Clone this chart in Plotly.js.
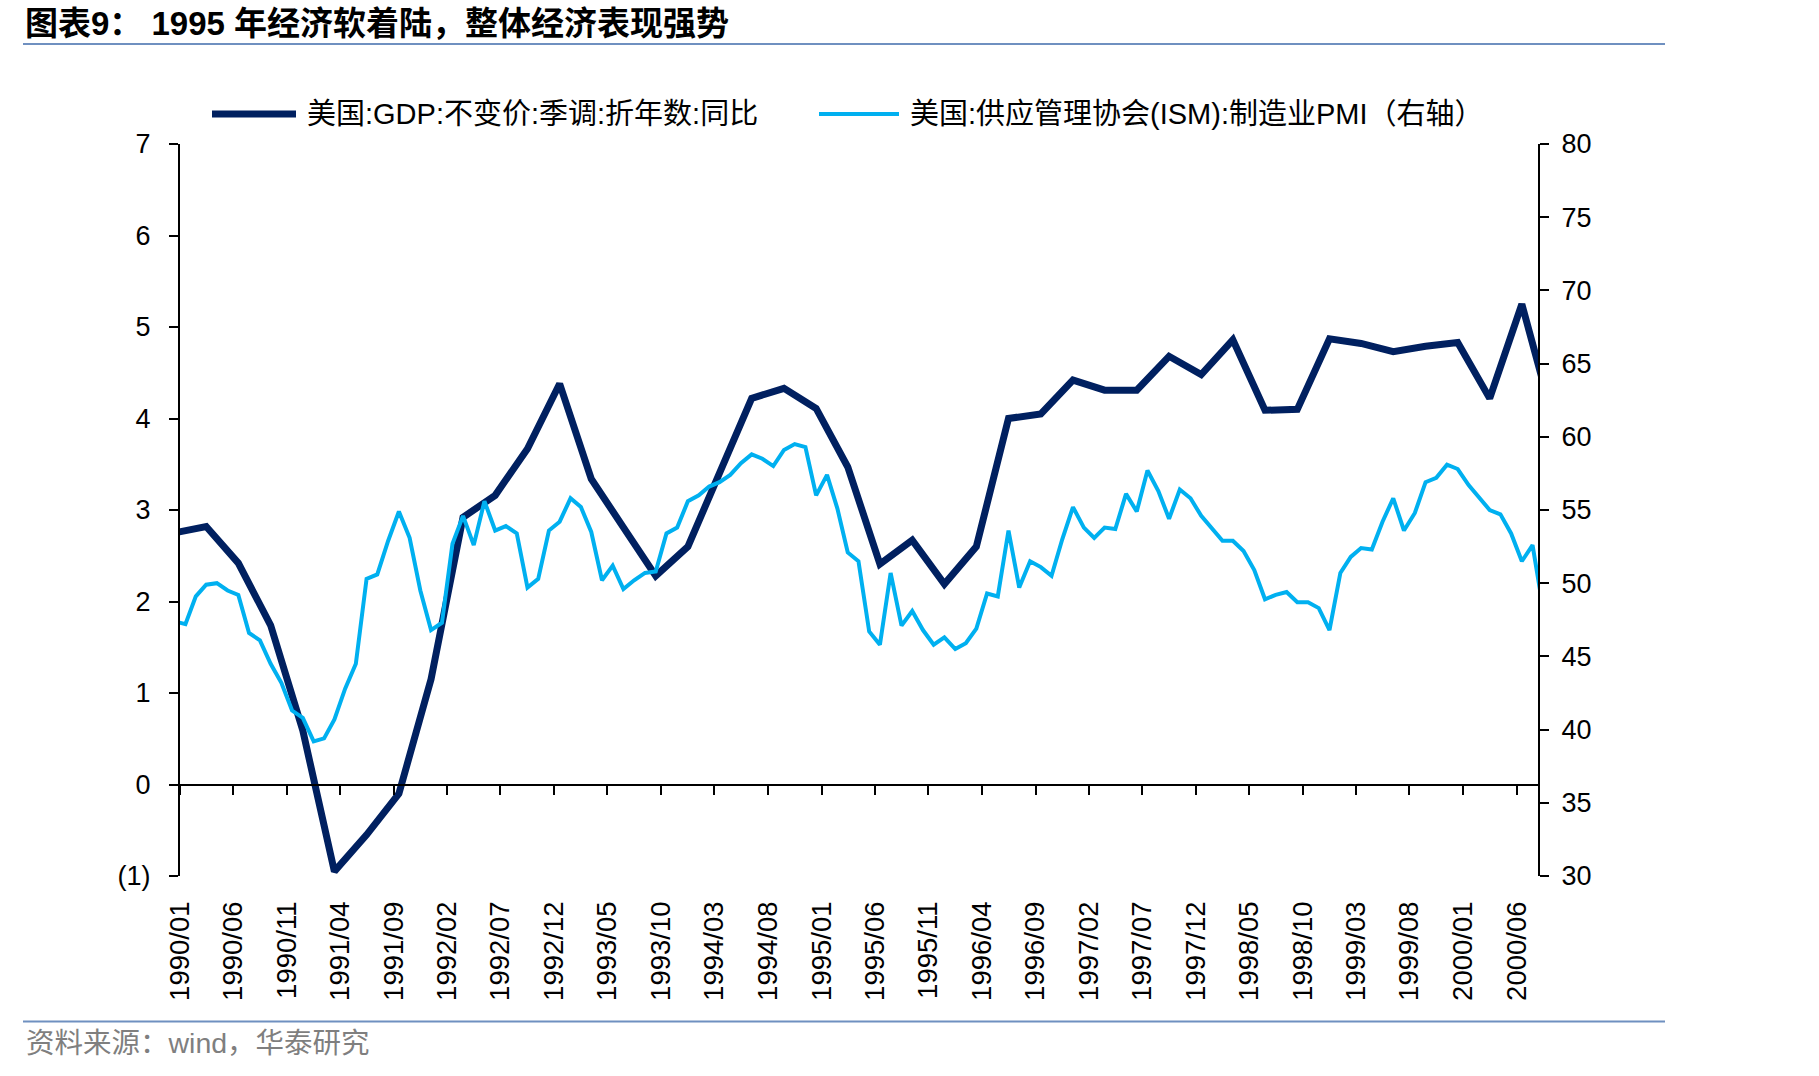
<!DOCTYPE html>
<html>
<head>
<meta charset="utf-8">
<script src="https://cdn.plot.ly/plotly-3.0.1.min.js"></script>
<style>
html, body { margin: 0; padding: 0; background: #ffffff; }
#chart { width: 1819px; height: 1076px; }
</style>
</head>
<body>
<div id="chart"></div>
<script>
// ---------------- DATA ----------------
// Series names (legend)
const gdpName = '美国:GDP:不变价:季调:折年数:同比';
const pmiName = '美国:供应管理协会(ISM):制造业PMI（右轴）';

// ISM manufacturing PMI, monthly, first month = 1989/12, last = 2000/08
const pmiFirstMonth = '1989/12';
const pmiValues = [47.4,
  47.2, 49.1, 49.9, 50.0, 49.5, 49.2, 46.6, 46.1, 44.5, 43.2, 41.3, 40.8,
  39.2, 39.4, 40.7, 42.8, 44.5, 50.3, 50.6, 52.9, 54.9, 53.1, 49.5, 46.8,
  47.3, 52.7, 54.6, 52.6, 55.6, 53.6, 53.9, 53.4, 49.7, 50.3, 53.6, 54.2,
  55.8, 55.2, 53.5, 50.2, 51.2, 49.6, 50.2, 50.7, 50.8, 53.4, 53.8, 55.6,
  56.0, 56.6, 56.9, 57.4, 58.2, 58.8, 58.5, 58.0, 59.1, 59.5, 59.3, 56.0,
  57.4, 55.1, 52.1, 51.5, 46.7, 45.8, 50.7, 47.1, 48.1, 46.8, 45.8, 46.3,
  45.5, 45.9, 46.9, 49.3, 49.1, 53.6, 49.7, 51.5, 51.1, 50.5, 53.0, 55.2,
  53.8, 53.1, 53.8, 53.7, 56.1, 54.9, 57.7, 56.3, 54.4, 56.4, 55.8, 54.6,
  53.7, 52.9, 52.9, 52.2, 50.9, 48.9, 49.2, 49.4, 48.7, 48.7, 48.3, 46.8,
  50.7, 51.8, 52.4, 52.3, 54.2, 55.8, 53.6, 54.8, 56.9, 57.2, 58.1, 57.8,
  56.7, 55.8, 55.0, 54.7, 53.4, 51.5, 52.6, 48.1];

// US real GDP y/y (%), quarterly (quarter-end month)
const gdpQuarters = ['1989/12',
  '1990/03', '1990/06', '1990/09', '1990/12',
  '1991/03', '1991/06', '1991/09', '1991/12',
  '1992/03', '1992/06', '1992/09', '1992/12',
  '1993/03', '1993/06', '1993/09', '1993/12',
  '1994/03', '1994/06', '1994/09', '1994/12',
  '1995/03', '1995/06', '1995/09', '1995/12',
  '1996/03', '1996/06', '1996/09', '1996/12',
  '1997/03', '1997/06', '1997/09', '1997/12',
  '1998/03', '1998/06', '1998/09', '1998/12',
  '1999/03', '1999/06', '1999/09', '1999/12',
  '2000/03', '2000/06', '2000/09'];
const gdpValues = [2.75,
  2.82, 2.42, 1.74, 0.59,
  -0.95, -0.55, -0.10, 1.15,
  2.92, 3.16, 3.67, 4.38,
  3.34, 2.81, 2.28, 2.60,
  3.42, 4.22, 4.33, 4.11,
  3.47, 2.41, 2.67, 2.19,
  2.60, 4.00, 4.05, 4.42,
  4.31, 4.31, 4.68, 4.48,
  4.86, 4.09, 4.10, 4.87,
  4.82, 4.73, 4.79, 4.83,
  4.22, 5.25, 3.95];

// Axis ticks
const xAxisStart = '1990/01';
const xAxisEnd = '2000/08';
const xTickStepMonths = 5;
const leftTickVals = [-1, 0, 1, 2, 3, 4, 5, 6, 7];
const leftTickText = ['(1)', '0', '1', '2', '3', '4', '5', '6', '7'];
const rightRange = [30, 80];
const rightTickStep = 5;

// Texts
const titleText = '图表9： 1995 年经济软着陆，整体经济表现强势';
const sourceText = '资料来源：wind，华泰研究';

// ---------------- HELPERS ----------------
function toDate(label) {            // '1990/03' -> '1990-03-01'
  const [y, m] = label.split('/');
  return y + '-' + m + '-01';
}
function monthSequence(first, count) {
  let [y, m] = first.split('/').map(Number);
  const out = [];
  for (let i = 0; i < count; i++) {
    out.push(y + '-' + String(m).padStart(2, '0') + '-01');
    m++; if (m > 12) { m = 1; y++; }
  }
  return out;
}
const pmiDates = monthSequence(pmiFirstMonth, pmiValues.length);
const gdpDates = gdpQuarters.map(toDate);

// ---------------- LAYOUT GEOMETRY ----------------
const W = 1819, H = 1076;
const L = 180, R = 1538, T = 144, B = 876;
const px2x = p => (p - L) / (R - L);
const px2y = p => (B - p) / (B - T);

const FONT_LATIN = 'Liberation Sans, Arial, Noto Sans CJK SC, sans-serif';
const FONT_MIX = 'Liberation Sans, Noto Sans CJK SC, sans-serif';

const navy = '#002060';
const cyan = '#00b0f0';
const ruleColor = '#6f90c0';

const traces = [
  {
    type: 'scatter', mode: 'lines', name: gdpName,
    x: gdpDates, y: gdpValues, xaxis: 'x', yaxis: 'y',
    xperiod: 'M1', xperiodalignment: 'middle',
    line: { color: navy, width: 7 }, showlegend: false, hoverinfo: 'skip'
  },
  {
    type: 'scatter', mode: 'lines', name: pmiName,
    x: pmiDates, y: pmiValues, xaxis: 'x', yaxis: 'y2',
    xperiod: 'M1', xperiodalignment: 'middle',
    line: { color: cyan, width: 4 }, showlegend: false, hoverinfo: 'skip'
  },
  { // carrier for the zero-line axis with ticks
    type: 'scatter', mode: 'lines', x: [], y: [], xaxis: 'x2', yaxis: 'y',
    showlegend: false, hoverinfo: 'skip'
  }
];

const xRange = [toDate(xAxisStart), toDate(xAxisEnd)];
const commonX = {
  type: 'date', range: xRange, tick0: toDate(xAxisStart), dtick: 'M' + xTickStepMonths,
  showgrid: false, zeroline: false, fixedrange: true
};

const layout = {
  width: W, height: H,
  paper_bgcolor: '#ffffff', plot_bgcolor: 'rgba(0,0,0,0)',
  margin: { l: L, r: W - R, t: T, b: H - B, pad: 0 },
  showlegend: false,
  title: {
    text: titleText,
    x: 25 / W, xref: 'container', xanchor: 'left',
    y: 1 - 23 / H, yref: 'container', yanchor: 'middle',
    font: { family: FONT_MIX, size: 33, color: '#000000', weight: 'bold' }
  },
  xaxis: Object.assign({}, commonX, {
    anchor: 'y', side: 'bottom',
    showline: false, ticks: '',
    tickformat: '%Y/%m', tickangle: -90,
    tickfont: { family: FONT_LATIN, size: 27.5, color: '#000000' },
    ticklabelstandoff: 19
  }),
  xaxis2: Object.assign({}, commonX, {
    overlaying: 'x', anchor: 'free', position: 0.125, side: 'bottom',
    showline: true, linecolor: '#000000', linewidth: 2,
    ticks: 'outside', ticklen: 9, tickwidth: 2, tickcolor: '#000000',
    showticklabels: false
  }),
  yaxis: {
    range: [leftTickVals[0], leftTickVals[leftTickVals.length - 1]],
    tickmode: 'array', tickvals: leftTickVals, ticktext: leftTickText,
    showline: true, linecolor: '#000000', linewidth: 2,
    ticks: 'outside', ticklen: 9, tickwidth: 2, tickcolor: '#000000',
    showgrid: false, zeroline: false, fixedrange: true,
    tickfont: { family: FONT_LATIN, size: 27, color: '#000000' },
    ticklabelstandoff: 13
  },
  yaxis2: {
    overlaying: 'y', side: 'right', anchor: 'x',
    range: rightRange, tick0: rightRange[0], dtick: rightTickStep,
    showline: true, linecolor: '#000000', linewidth: 2,
    ticks: 'outside', ticklen: 9, tickwidth: 2, tickcolor: '#000000',
    showgrid: false, zeroline: false, fixedrange: true,
    tickfont: { family: FONT_LATIN, size: 27, color: '#000000' },
    ticklabelstandoff: 7
  },
  shapes: [
    { type: 'line', xref: 'paper', yref: 'paper', x0: px2x(23), x1: px2x(1665), y0: px2y(44), y1: px2y(44),
      line: { color: ruleColor, width: 2 } },
    { type: 'line', xref: 'paper', yref: 'paper', x0: px2x(23), x1: px2x(1665), y0: px2y(1021.5), y1: px2y(1021.5),
      line: { color: ruleColor, width: 2 } },
    { type: 'line', xref: 'paper', yref: 'paper', x0: px2x(212), x1: px2x(296), y0: px2y(114), y1: px2y(114),
      line: { color: navy, width: 7 } },
    { type: 'line', xref: 'paper', yref: 'paper', x0: px2x(819), x1: px2x(899), y0: px2y(114), y1: px2y(114),
      line: { color: cyan, width: 4 } }
  ],
  annotations: [
    { xref: 'paper', yref: 'paper', x: px2x(305), y: px2y(114), xanchor: 'left', yanchor: 'middle',
      text: gdpName, showarrow: false, font: { family: FONT_MIX, size: 29, color: '#000000' } },
    { xref: 'paper', yref: 'paper', x: px2x(908), y: px2y(114), xanchor: 'left', yanchor: 'middle',
      text: pmiName, showarrow: false, font: { family: FONT_MIX, size: 29, color: '#000000' } },
    { xref: 'paper', yref: 'paper', x: px2x(24), y: px2y(1043), xanchor: 'left', yanchor: 'middle',
      text: sourceText, showarrow: false, font: { family: FONT_MIX, size: 28.5, color: '#7f7f7f' } }
  ]
};

Plotly.newPlot('chart', traces, layout, { staticPlot: true, displayModeBar: false });
</script>
</body>
</html>
